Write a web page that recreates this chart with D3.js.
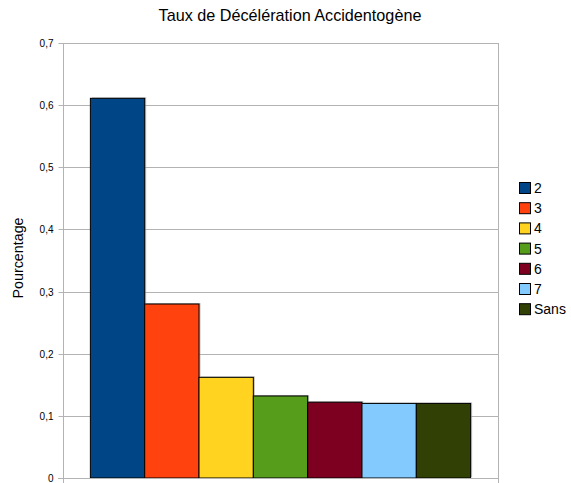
<!DOCTYPE html>
<html><head><meta charset="utf-8">
<script src="https://cdn.jsdelivr.net/npm/d3@7"></script>
<style>body{margin:0;background:#fff}svg{display:block}text{font-family:"Liberation Sans",Arial,sans-serif}</style>
</head><body><svg id="c" width="571" height="483"></svg>
<script>
const series = ["2","3","4","5","6","7","Sans"];
const values = [0.611, 0.280, 0.162, 0.132, 0.122, 0.120, 0.120];
const colors = ["#004586","#ff420e","#ffd320","#579d1c","#7e0021","#83caff","#314004"];
const yTicks = [0,0.1,0.2,0.3,0.4,0.5,0.6,0.7];
const title = "Taux de Décélération Accidentogène";
const yLabel = "Pourcentage";

const FONT = "Liberation Sans, Arial, sans-serif";
const svg = d3.select("#c");
const m = {left:63, right:498, top:43, bottom:478};
const y = d3.scaleLinear().domain([0,0.7]).range([m.bottom, m.top]);
const outer = d3.scaleBand().domain(["g"]).range([m.left, m.right]).paddingOuter(0.072).paddingInner(0);
const x = d3.scaleBand().domain(series).range([outer("g"), outer("g")+outer.bandwidth()]).padding(0);
const grid = "#b3b3b3";

svg.append("g").selectAll("line").data(yTicks.slice(1)).join("line")
  .attr("x1", m.left).attr("x2", m.right)
  .attr("y1", d=>Math.round(y(d))+0.5).attr("y2", d=>Math.round(y(d))+0.5)
  .attr("stroke", grid);

// shadows
svg.append("g").selectAll("rect").data(values).join("rect")
  .attr("x", (d,i)=>x(series[i])+1.5).attr("y", d=>y(d)-1)
  .attr("width", x.bandwidth()).attr("height", d=>m.bottom - y(d))
  .attr("fill", "#999").attr("opacity", 0.6);
svg.append("g").selectAll("rect").data(values).join("rect")
  .attr("x", (d,i)=>x(series[i])).attr("y", d=>y(d))
  .attr("width", x.bandwidth()).attr("height", d=>m.bottom - y(d))
  .attr("fill", (d,i)=>colors[i]).attr("stroke", "#000").attr("stroke-width", 1);

// y axis
const yAxis = d3.axisLeft(y).tickValues(yTicks).tickSize(5).tickPadding(5)
  .tickFormat(d=>d3.format(".1f")(d).replace(".", ",").replace(/^0,0$/,"0"));
const ga = svg.append("g").attr("transform", `translate(${m.left+0.5},0)`).call(yAxis);
ga.attr("font-family", FONT);
ga.select(".domain").attr("stroke", grid).attr("d", `M0,${m.top}V${m.bottom+5}`);
ga.selectAll(".tick line").attr("stroke", grid);
ga.selectAll(".tick text").attr("font-size", 10).attr("fill", "#000").attr("font-family", FONT);
ga.selectAll(".tick").attr("transform", d=>`translate(0,${Math.round(y(d))+0.5})`);

// x axis baseline and right edge
svg.append("line").attr("x1", m.left-5).attr("x2", m.right).attr("y1", m.bottom+0.5).attr("y2", m.bottom+0.5).attr("stroke", grid);
svg.append("line").attr("x1", m.right+0.5).attr("x2", m.right+0.5).attr("y1", m.top).attr("y2", m.bottom+5).attr("stroke", grid);

// title
svg.append("text").attr("x", 290).attr("y", 21).attr("text-anchor","middle").attr("font-size", 16.2).attr("font-family", FONT).attr("fill","#000").text(title);
svg.append("text").attr("transform", "translate(23,258) rotate(-90)").attr("text-anchor","middle").attr("font-size", 14.3).attr("font-family", FONT).attr("fill","#000").text(yLabel);

// legend
const lg = svg.append("g").selectAll("g").data(series).join("g")
  .attr("transform", (d,i)=>`translate(519,${182 + i*20.2})`);
lg.append("rect").attr("x",0.5).attr("y",0.5).attr("width",11).attr("height",11).attr("fill",(d,i)=>colors[i]).attr("stroke","#000");
lg.append("text").attr("x",15).attr("y",11).attr("font-size",14).attr("font-family", FONT).attr("fill","#000").text(d=>d);
</script></body></html>
